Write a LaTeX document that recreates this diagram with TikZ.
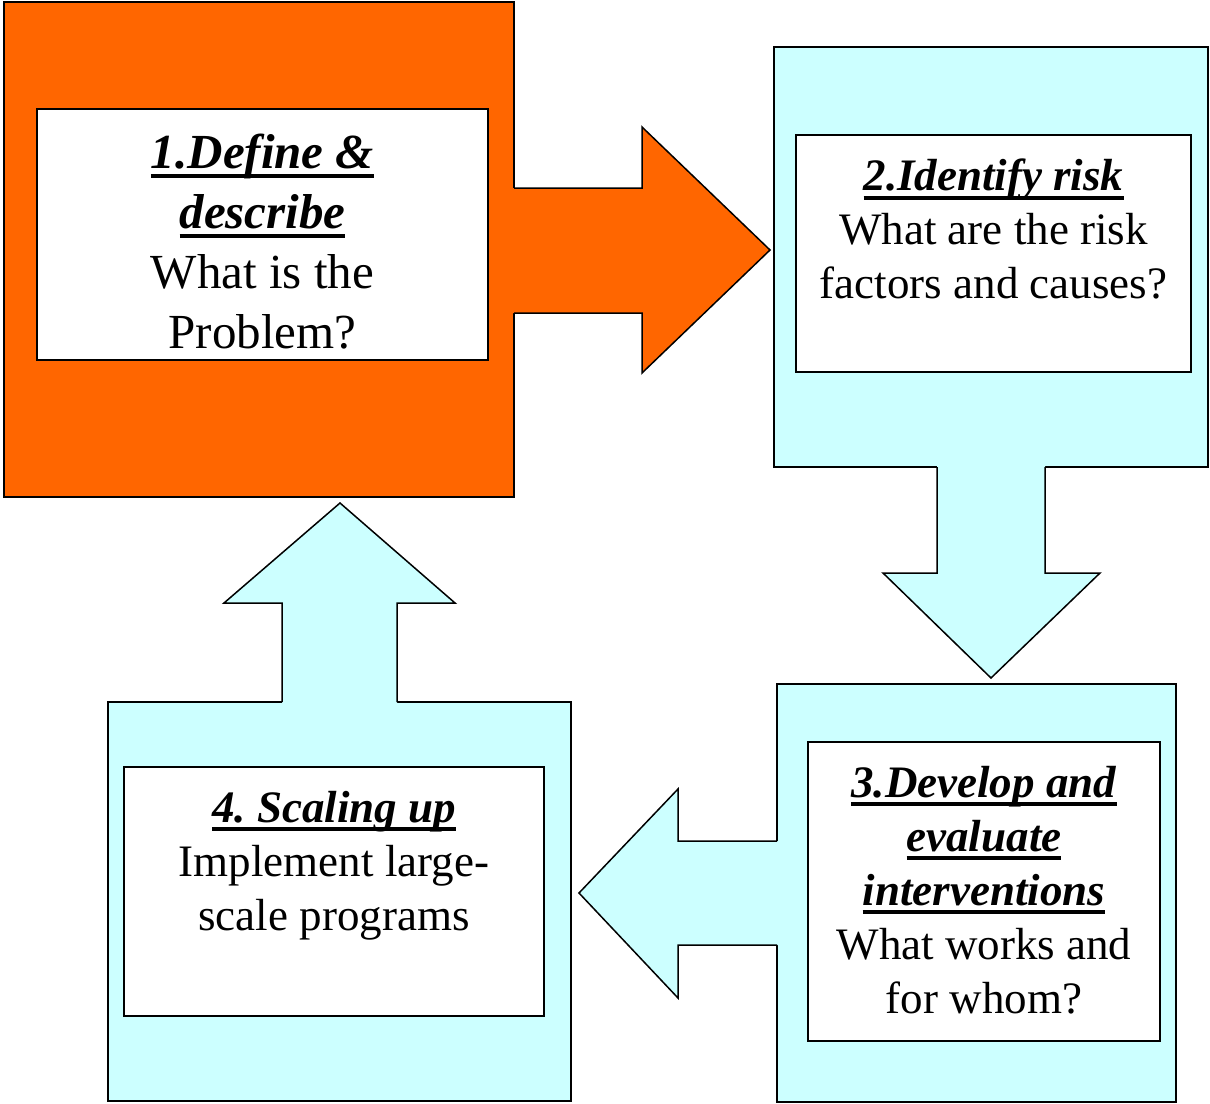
\documentclass[tikz,border=0pt]{standalone}
\usepackage{fontspec}
\setmainfont{Liberation Serif}
\usetikzlibrary{positioning}
\frenchspacing
\newsavebox{\titlebox}
\newcommand{\steptitle}[1]{\sbox{\titlebox}{\textbf{\textit{#1}}}\rlap{\rule[-9pt]{\wd\titlebox}{4pt}}\usebox{\titlebox}}
\definecolor{orng}{HTML}{FF6600}
\definecolor{lcyan}{HTML}{CCFFFF}

\begin{document}
\begin{tikzpicture}[x=1pt, y=-1pt, line width=1.5pt, line join=miter,
	outer/.style={rectangle, draw, inner sep=0pt},
	inner/.style={rectangle, draw, fill=white, inner sep=0pt},
	txt/.style={align=center, inner sep=0pt, anchor=north, font=\fontsize{45}{54}\selectfont}]

		\useasboundingbox (0,0) rectangle (1210,1103);

		% outer boxes
		\node[outer, fill=orng, minimum width=510pt, minimum height=495pt] (b1) at (259,249.5) {};
		\node[outer, fill=lcyan, minimum width=434pt, minimum height=420pt] (b2) at (991,257) {};
		\node[outer, fill=lcyan, minimum width=399pt, minimum height=418pt] (b3) at (976.5,893) {};
		\node[outer, fill=lcyan, minimum width=463pt, minimum height=399pt] (b4) at (339.5,901.5) {};

		% block arrows
		\fill[orng] (510,188) -- (642,188) -- (642,127) -- (770,250) -- (642,373) -- (642,313) -- (510,313) -- cycle;
		\draw (514,188) -- (642,188) -- (642,127) -- (770,250) -- (642,373) -- (642,313) -- (514,313);
		\fill[lcyan] (937,463) -- (937,573) -- (883,573) -- (991,678) -- (1100,573) -- (1045,573) -- (1045,463) -- cycle;
		\draw (937,467) -- (937,573) -- (883,573) -- (991,678) -- (1100,573) -- (1045,573) -- (1045,467);
		\fill[lcyan] (781,841) -- (678,841) -- (678,789) -- (579,893) -- (678,998) -- (678,945) -- (781,945) -- cycle;
		\draw (777,841) -- (678,841) -- (678,789) -- (579,893) -- (678,998) -- (678,945) -- (777,945);
		\fill[lcyan] (282,706) -- (282,603) -- (224,603) -- (340,503) -- (455,603) -- (397,603) -- (397,706) -- cycle;
		\draw (282,702) -- (282,603) -- (224,603) -- (340,503) -- (455,603) -- (397,603) -- (397,702);

		% inner boxes
		\node[inner, minimum width=451pt, minimum height=251pt] (in1) at (262.5,234.5) {};
		\node[inner, minimum width=395pt, minimum height=237pt] (in2) at (993.5,253.5) {};
		\node[inner, minimum width=352pt, minimum height=299pt] (in3) at (984,891.5) {};
		\node[inner, minimum width=420pt, minimum height=249pt] (in4) at (334,891.5) {};

		% texts
		\node[txt, font=\fontsize{49}{60}\selectfont, below=25pt of in1.north] (t1) {\steptitle{1.Define \&}\\ \steptitle{describe}\\ What is the\\ Problem?};
		\node[txt, below=24pt of in2.north] (t2) {\steptitle{2.Identify risk}\\ What are the risk\\ factors and causes?};
		\node[txt, below=24pt of in3.north] (t3) {\steptitle{3.Develop and}\\ \steptitle{evaluate}\\ \steptitle{interventions}\\ What works and\\ for whom?};
		\node[txt, below=24pt of in4.north] (t4) {\steptitle{4. Scaling up}\\ Implement large-\\ scale programs};

\end{tikzpicture}
\end{document}
